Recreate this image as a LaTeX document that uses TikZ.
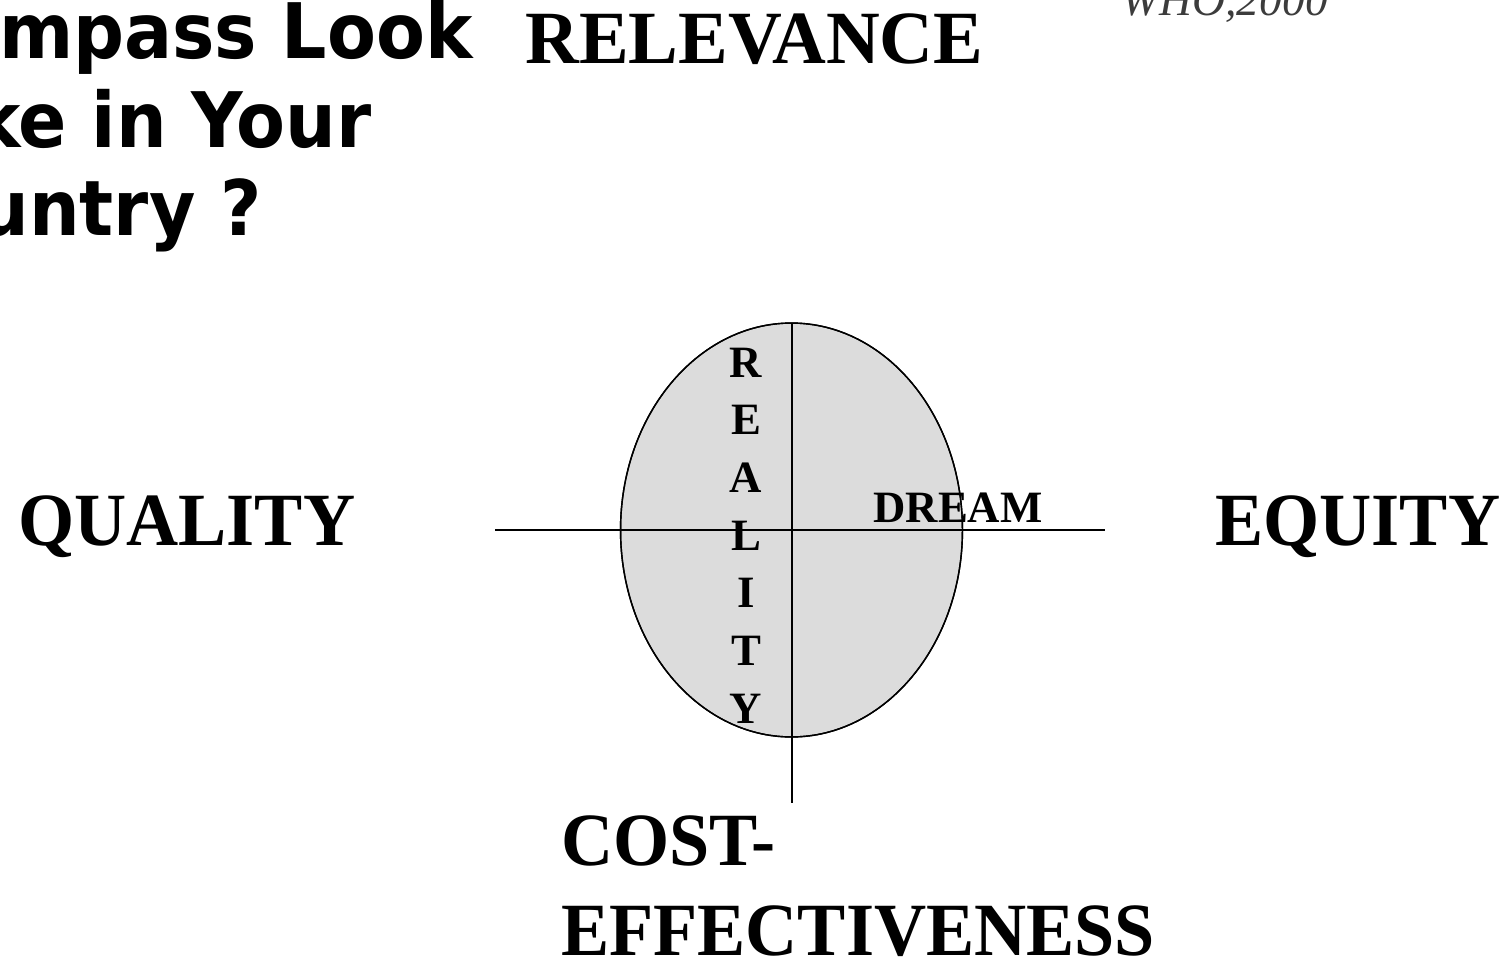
\documentclass[tikz,border=0pt]{standalone}
\usepackage{fontspec}
\setmainfont{Liberation Serif}
\newfontfamily\headfont[FakeStretch=0.93]{DejaVu Sans}
\newfontfamily\wordfont[FakeStretch=0.96]{Liberation Serif}
\newfontfamily\relfont[FakeStretch=0.99]{Liberation Serif}
\definecolor{ovalgray}{RGB}{220, 220, 220}
\definecolor{whogray}{RGB}{60, 60, 60}
\usepackage{tikz}
\usetikzlibrary{shapes.geometric, positioning}
\tikzset{
  headline/.style={anchor=base east, inner sep=0pt, font=\headfont\bfseries\fontsize{43.6}{50}\selectfont},
  bigword/.style={anchor=base west, inner sep=0pt, font=\wordfont\bfseries\fontsize{42.8}{50}\selectfont},
  smallword/.style={inner sep=0pt, font=\bfseries\fontsize{25.5}{30}\selectfont},
  axis/.style={draw=black, line width=1.1pt},
}

\begin{document}
\begin{tikzpicture}[x=0.02cm, y=-0.02cm]
  \useasboundingbox (0, 0) rectangle (1502, 960);
  \clip (0, 0) rectangle (1502, 960);

  % Title (cut at the left edge)
  \node[headline] (head1) at (473, 58) {Compass Look};
  \node[headline] (head2) at (372, 147) {Like in Your};
  \node[headline] (head3) at (262, 235) {Country ?};

  % Source
  \node[anchor=base west, inner sep=0pt, text=whogray, font=\itshape\fontsize{26}{30}\selectfont] (who) at (1121, 15) {WHO,2000};

  % The four directions
  \node[bigword, font=\relfont\bfseries\fontsize{42.8}{50}\selectfont] (relevance) at (525, 63) {RELEVANCE};
  \node[bigword] (quality) at (18, 545) {QUALITY};
  \node[bigword] (equity) at (1215, 545) {EQUITY};
  \node[bigword] (cost) at (561, 865) {COST-};
  \node[bigword] (effect) at (561, 955) {EFFECTIVENESS};

  % Oval and axes
  \node[ellipse, draw=black, line width=0.8pt, fill=ovalgray, inner sep=0pt,
        minimum width=6.84cm, minimum height=8.28cm] (oval) at (791.5, 530) {};
  \coordinate (west) at (495, 530);
  \coordinate (east) at (1105, 530);
  \coordinate (north) at (792, 323);
  \coordinate (south) at (792, 803);
  \draw[axis] (west) -- (east);
  \draw[axis] (north) -- (south);

  % Reality, one letter under the other
  \foreach \ch [count=\i] in {R,E,A,L,I,T,Y}
    \node[smallword, anchor=base] (real\i) at (746, {377+57.7*(\i-1)}) {\ch};

  \node[smallword, anchor=base west] (dream) at (873, 522) {DREAM};
  \draw[line width=0.8pt] (oval.center) ellipse [x radius=3.42cm, y radius=4.14cm];
\end{tikzpicture}
\end{document}
